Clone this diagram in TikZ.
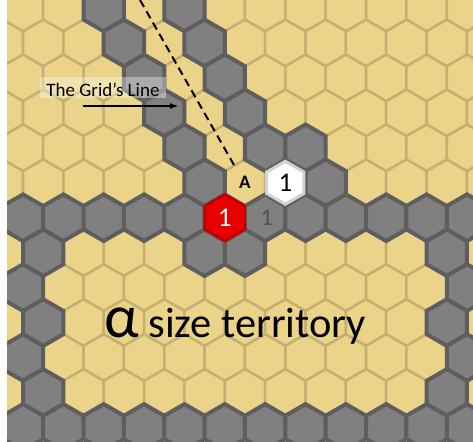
\documentclass[tikz,border=0pt]{standalone}
\usepackage{fontspec}
\setmainfont{Carlito}
\usetikzlibrary{arrows.meta}
\definecolor{SandFill}{HTML}{EBD38A}
\definecolor{SandLine}{HTML}{C6AF70}
\definecolor{WallFill}{HTML}{808080}
\definecolor{WallLine}{HTML}{5E5E5E}
\definecolor{MarkRed}{HTML}{E60000}
\definecolor{MarkRedLine}{HTML}{C00000}
\definecolor{MarkWhiteLine}{HTML}{D2D2D2}

\newcommand{\hexr}{23.3}
\newcommand{\hexat}[2]{({23+40.36*#1-20.18*mod(#2,2)},{8+34.95*#2})}
\newcommand{\hexcell}[3]{\path[#3] \hexat{#1}{#2} +(90:\hexr) -- +(150:\hexr) -- +(210:\hexr) -- +(270:\hexr) -- +(330:\hexr) -- +(30:\hexr) -- cycle;}

\begin{document}
\begin{tikzpicture}[x=1pt, y=-1pt,
	sand/.style={fill=SandFill, draw=SandLine, line width=2.5pt},
	wall/.style={fill=WallFill, draw=WallLine, line width=4pt},
	redcell/.style={fill=MarkRed, draw=MarkRedLine, line width=2.5pt},
	whitecell/.style={fill=white, draw=MarkWhiteLine, line width=3pt},
	celltext/.style={inner sep=0pt, font=\fontsize{27}{27}\selectfont},
	guide/.style={line width=2pt, dash pattern=on 8pt off 5pt},
	pointer/.style={-{Latex[length=8pt,width=6pt]}, line width=1pt}
]
\useasboundingbox (0,0) rectangle (473,441);
\fill[white] (0,0) rectangle (473,441);

\begin{scope}
\clip (7,0) rectangle (473,441);
\foreach \row in {0,...,12}{
	\foreach \col in {0,...,12}{
		\hexcell{\col}{\row}{sand}
	}
}
\foreach \col/\row in {2/0,4/0,3/1,5/1,3/2,5/2,4/3,6/3,4/4,6/4,7/4,5/5,8/5,
		1/7,5/7,6/7,11/7,0/8,11/8,1/9,11/9,0/10,11/10,1/11,11/11}{
	\hexcell{\col}{\row}{wall}
}
\foreach \row in {6,12}{
	\foreach \col in {0,...,12}{
		\hexcell{\col}{\row}{wall}
	}
}
\hexcell{5}{6}{redcell}
\path[whitecell] \hexat{7}{5} +(90:21.5) -- +(150:21.5) -- +(210:21.5) -- +(270:21.5) -- +(330:21.5) -- +(30:21.5) -- cycle;
\end{scope}

\node[celltext, font=\fontsize{19}{19}\selectfont\bfseries] (cellA) at \hexat{6}{5} {A};
\node[celltext] (whiteone) at \hexat{7}{5} {1};
\node[celltext, text=white] (redone) at \hexat{5}{6} {1};
\node[celltext, text=WallLine!85!black, font=\fontsize{24}{24}\selectfont, xshift=1.5pt] (grayone) at \hexat{6}{6} {1};

\coordinate (linetop) at (140,0);
\coordinate (lineend) at (234,165);
\draw[guide] (linetop) -- (lineend);

\node[anchor=base, fill=white, fill opacity=0.35, text opacity=1, inner xsep=6pt, inner ysep=0pt,
	text height=20pt, text depth=1pt, font=\fontsize{19}{20}\selectfont] (gridlabel) at (103,97) {The Grid’s Line};
\coordinate (arrowtail) at (83,106);
\coordinate (arrowtip) at (178,106);
\draw[pointer] (arrowtail) -- (arrowtip);

\node[anchor=base west, inner sep=0pt] (territory) at (104,337)
	{\fontsize{61}{61}\selectfont α\fontsize{42.5}{42.5}\selectfont\ size territory};
\end{tikzpicture}
\end{document}
